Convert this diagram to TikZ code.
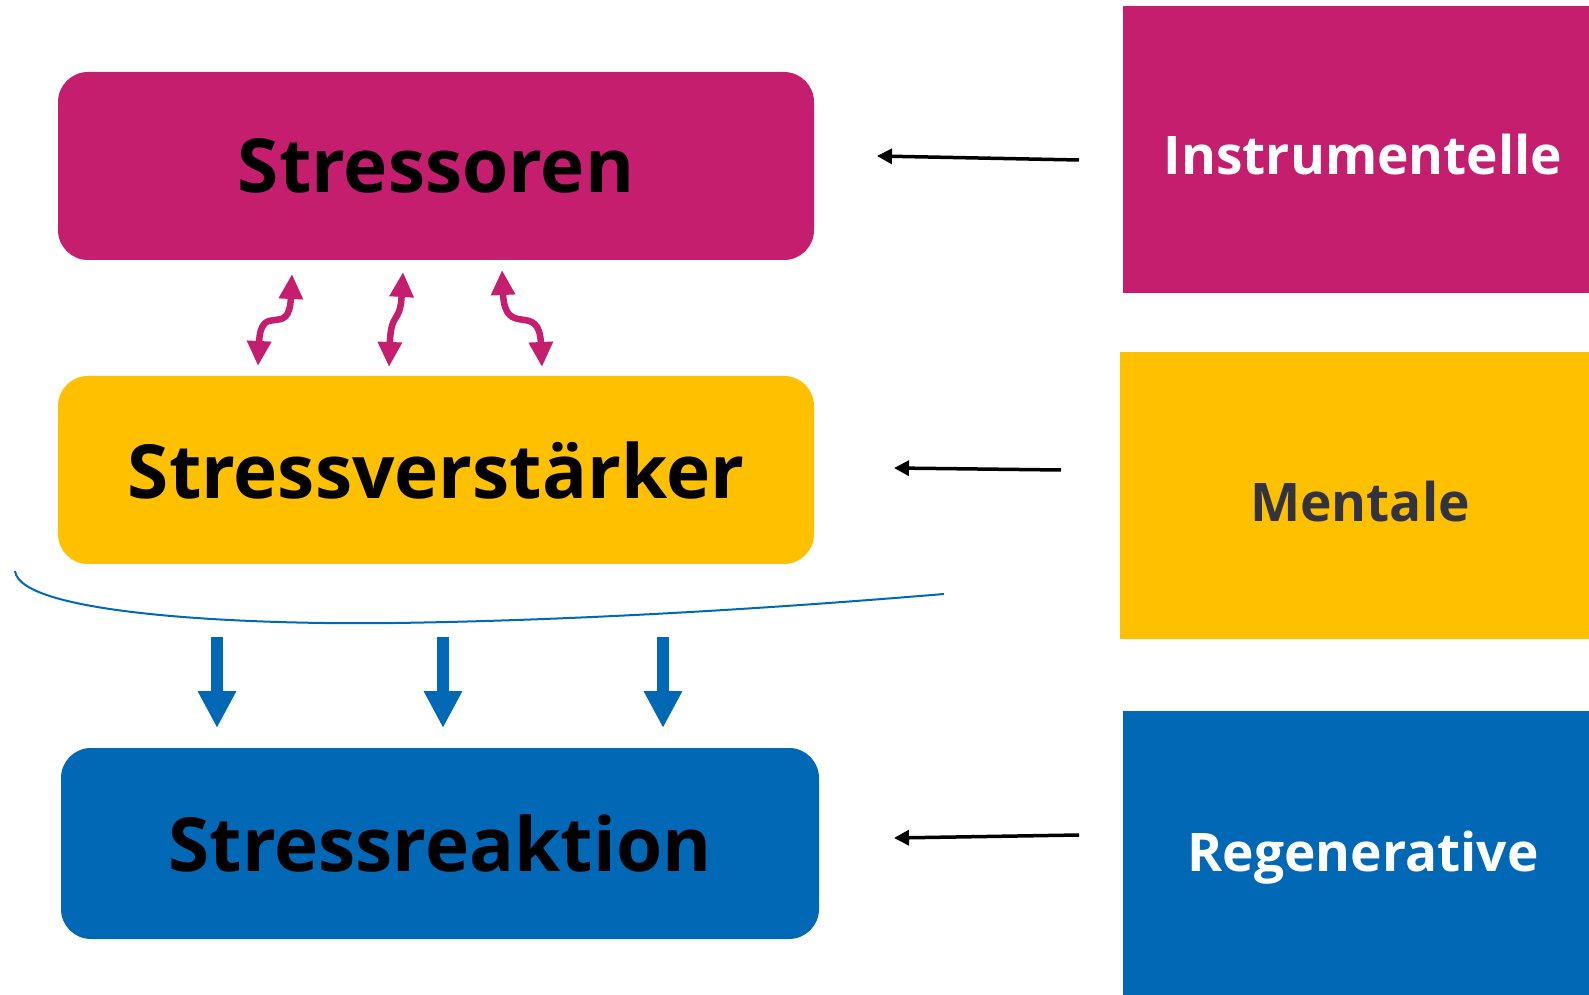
\documentclass[tikz,border=0pt]{standalone}
\usepackage{fontspec}
\setmainfont{Open Sans}
\usetikzlibrary{arrows.meta, positioning}
\definecolor{stpink}{HTML}{C51E6E}
\definecolor{styellow}{HTML}{FFC000}
\definecolor{stblue}{HTML}{0068B4}
\definecolor{stgray}{HTML}{33333F}

\begin{document}
\begin{tikzpicture}[
    stage/.style={rectangle, rounded corners=0.6cm, minimum width=15.12cm, minimum height=3.76cm, font=\fontsize{42.5}{48}\selectfont\bfseries, text=black},
    source/.style={rectangle, minimum width=9.6cm, minimum height=5.74cm, text height=1.02cm, text depth=0pt, font=\fontsize{30.3}{34}\selectfont\bfseries, text=white},
    link/.style={{Triangle[length=0.5cm, width=0.46cm]}-{Triangle[length=0.5cm, width=0.46cm]}, line width=0.13cm, color=stpink},
    push/.style={-{Triangle[length=0.74cm, width=0.72cm]}, line width=0.24cm, color=stblue},
    feed/.style={-{Triangle[length=0.3cm, width=0.3cm]}, line width=0.07cm}
]
\useasboundingbox (0,0) rectangle (31.78,-19.9);

% Stages of stress
\node[stage, fill=stpink] (stress) at (8.72,-3.32) {Stressoren};
\node[stage, fill=styellow] (verst) at (8.72,-9.40) {Stressverstärker};
\node[stage, fill=stblue, minimum width=15.16cm, minimum height=3.82cm] (reakt) at (8.80,-16.87) {Stressreaktion};

% Kinds of coping
\node[source, fill=stpink] (instr) at (27.26,-2.99) {Instrumentelle};
\node[source, fill=styellow, text=stgray] (mental) at (27.20,-9.91) {Mentale};
\node[source, fill=stblue, minimum height=5.78cm, text height=0.62cm] (regen) at (27.26,-17.11) {Regenerative};

% Ends of the connectors
\coordinate (l1a) at (5.16,-7.32);
\coordinate (l1b) at (5.84,-5.48);
\coordinate (l2a) at (7.78,-7.34);
\coordinate (l2b) at (8.06,-5.44);
\coordinate (l3a) at (10.84,-7.34);
\coordinate (l3b) at (10.04,-5.40);
\foreach \n/\x in {1/4.34, 2/8.86, 3/13.26} {
    \coordinate (p\n a) at (\x,-12.74);
    \coordinate (p\n b) at (\x,-14.56);
}
\coordinate (f1a) at (21.58,-3.20);
\coordinate (f1b) at (17.54,-3.12);
\coordinate (f2a) at (21.22,-9.40);
\coordinate (f2b) at (17.88,-9.36);
\coordinate (f3a) at (21.58,-16.70);
\coordinate (f3b) at (17.88,-16.76);

% Interaction of stressors and amplifiers
\draw[link] (l1a) .. controls (5.22,-6.00) and (5.78,-6.80) .. (l1b);
\draw[link] (l2a) .. controls (7.82,-6.20) and (8.00,-6.50) .. (l2b);
\draw[link] (l3a) .. controls (10.78,-6.00) and (10.10,-6.80) .. (l3b);

% Bracket over the reaction arrows
\draw[stblue, line width=0.04cm] (0.30,-11.42) .. controls (0.40,-12.30) and (5.00,-12.50) .. (7.90,-12.46)
    .. controls (12.0,-12.40) and (16.0,-12.12) .. (18.88,-11.88);

% Reaction arrows
\foreach \n in {1,2,3} {
    \draw[push] (p\n a) -- (p\n b);
}

% Coping arrows
\draw[feed] (f1a) -- (f1b);
\draw[feed] (f2a) -- (f2b);
\draw[feed] (f3a) -- (f3b);

\end{tikzpicture}
\end{document}
